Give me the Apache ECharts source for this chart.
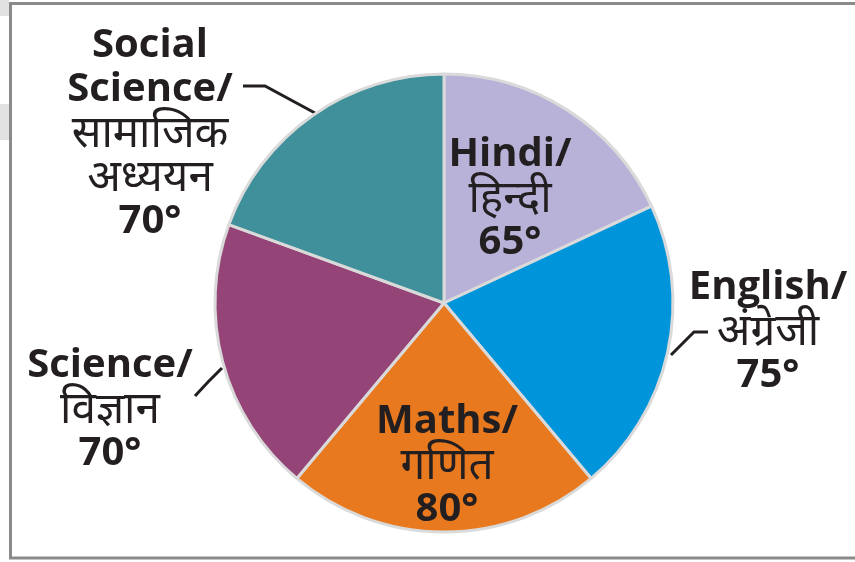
<!DOCTYPE html>
<html>
<head>
<meta charset="utf-8">
<script src="https://cdn.jsdelivr.net/npm/echarts@6/dist/echarts.min.js"></script>
<style>
  html, body { margin: 0; padding: 0; background: #fff; }
  #chart { width: 855px; height: 562px; }
</style>
</head>
<body>
<div id="chart"></div>
<script>
// subjects, clockwise from 12 o'clock
const englishNames = ['Hindi/', 'English/', 'Maths/', 'Science/', 'Social\nScience/'];
const hindiNames = ['हिन्दी', 'अंग्रेजी', 'गणित', 'विज्ञान', 'सामाजिक\nअध्ययन'];
const degrees = [65, 75, 80, 70, 70];
const colors = ['#b9b2d8', '#0095da', '#e8791f', '#944477', '#3f909b'];

// label block centres and leader lines (null = no line)
const labelSpots = [
  { x: 510, y: 199, line: null },
  { x: 768, y: 332, line: [[671, 355], [694, 332], [708, 332]] },
  { x: 447, y: 466, line: null },
  { x: 110, y: 410, line: [[222, 368], [208, 382], [195, 396]] },
  { x: 150, y: 134, line: [[315, 113], [265, 86], [243, 86]] }
];

const chart = echarts.init(document.getElementById('chart'));

const fontA = '"Open Sans", "Noto Sans", sans-serif';

const option = {
  backgroundColor: '#fff',
  animation: false,
  graphic: [
    { type: 'rect', shape: { x: 0, y: 0, width: 9, height: 16 }, style: { fill: '#e2e2e2' } },
    { type: 'rect', shape: { x: 0, y: 104, width: 9, height: 36 }, style: { fill: '#e2e2e2' } },
    { type: 'rect', z: 100, shape: { x: 10.5, y: 3.5, width: 870, height: 554.5 },
      style: { fill: 'none', stroke: '#8a8a8a', lineWidth: 3 } }
  ],
  series: [{
    type: 'pie',
    center: [444, 303],
    radius: 229,
    startAngle: 90,
    clockwise: true,
    silent: true,
    itemStyle: { borderColor: '#dadada', borderWidth: 3 },
    label: {
      show: true,
      overflow: 'none',
      formatter: function (p) {
        const i = p.dataIndex;
        const a = englishNames[i].split('\n').map(s => '{a|' + s + '}');
        const b = hindiNames[i].split('\n').map(s => '{b|' + s + '}');
        return a.concat(b).concat(['{a|' + degrees[i] + '°}']).join('\n');
      },
      align: 'center',
      rich: {
        a: { fontFamily: fontA, fontWeight: 'bold', fontSize: 40, lineHeight: 44, color: '#231f20', align: 'center' },
        b: { fontFamily: fontA, fontWeight: 'normal', fontSize: 44, lineHeight: 44, color: '#231f20', align: 'center' }
      }
    },
    labelLine: { show: true, lineStyle: { color: '#231f20', width: 3 } },
    labelLayout: function (params) {
      const s = labelSpots[params.dataIndex];
      const res = { x: s.x, y: s.y, align: 'center', verticalAlign: 'middle' };
      if (s.line) res.labelLinePoints = s.line;
      return res;
    },
    data: degrees.map((v, i) => ({
      value: v,
      name: englishNames[i],
      itemStyle: { color: colors[i] },
      labelLine: { show: labelSpots[i].line !== null }
    }))
  }]
};

chart.setOption(option);
</script>
</body>
</html>
